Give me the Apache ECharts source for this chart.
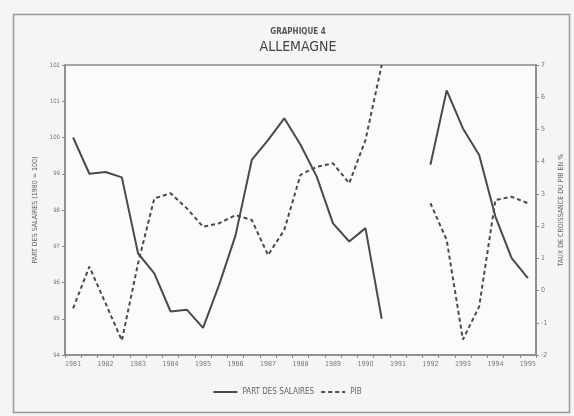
<!DOCTYPE html>
<html>
<head>
<meta charset="utf-8">
<script src="https://cdn.jsdelivr.net/npm/echarts@6/dist/echarts.min.js"></script>
<style>
html,body{margin:0;padding:0;background:#f5f5f3;}
#chart{width:574px;height:416px;}
</style>
</head>
<body>
<div id="chart"></div>
<script>
// Tick labels (years) — data are half-yearly (S1, S2)
var years = [1981,1982,1983,1984,1985,1986,1987,1988,1989,1990,1991,1992,1993,1994,1995];
var leftTicks = [94,95,96,97,98,99,100,101,102];
var rightTicks = [-2,-1,0,1,2,3,4,5,6,7];

// Part des salaires (left axis)
var partSalaires = [100.0, 99.0, 99.05, 98.9, 96.8, 96.25, 95.2, 95.25, 94.75, 95.95, 97.3, 99.38, 99.93, 100.53, 99.8, 98.92, 97.63, 97.13, 97.5, 95.0, null, null, 99.25, 101.3, 100.25, 99.52, 97.82, 96.67, 96.12];
// PIB growth % (right axis)
var pib = [-0.55, 0.74, -0.4, -1.55, 0.85, 2.86, 3.02, 2.55, 1.98, 2.09, 2.34, 2.19, 1.1, 1.88, 3.59, 3.84, 3.95, 3.33, 4.67, 7.0, null, null, 2.71, 1.57, -1.52, -0.5, 2.81, 2.91, 2.71];

var categories = [];
years.forEach(function(y, i){
  categories.push(y + ' S1');
  if (i < years.length - 1) categories.push(y + ' S2');
});

var FONT = "'Liberation Sans Narrow','DejaVu Sans Condensed','Liberation Sans',sans-serif";
var chart = echarts.init(document.getElementById('chart'), null, {renderer:'canvas'});
chart.setOption({
  backgroundColor: '#f5f5f3',
  animation: false,
  title: [
    {text: 'GRAPHIQUE 4', left: 293, top: 23, textAlign: 'center',
     textStyle: {fontFamily: FONT, fontSize: 8, fontWeight: 'bold', color: '#555'}},
    {text: 'ALLEMAGNE', left: 293, top: 35, textAlign: 'center',
     textStyle: {fontFamily: FONT, fontSize: 14, fontWeight: 'normal', color: '#444'}}
  ],
  graphic: [{
    type: 'rect', left: 11, top: 12, silent: true,
    shape: {width: 556, height: 398},
    style: {fill: 'none', stroke: '#9a9a9a', lineWidth: 1.5}
  }],
  grid: {left: 65, right: 38, top: 65, bottom: 61, show: true,
         backgroundColor: '#fbfbfa', borderColor: '#8a8a8a', borderWidth: 1.5},
  legend: {
    bottom: 15, left: 'center', itemWidth: 24, itemHeight: 8, itemGap: 6,
    textStyle: {fontFamily: FONT, fontSize: 8, color: '#666'},
    itemStyle: {opacity: 0},
    data: ['PART DES SALAIRES', 'PIB']
  },
  xAxis: {
    type: 'category', data: categories, boundaryGap: true,
    axisLine: {onZero: false, lineStyle: {color: '#8a8a8a', width: 1.5}},
    axisTick: {show: true, interval: 0, length: 3, lineStyle: {color: '#8a8a8a'}},
    axisLabel: {interval: 1, margin: 6, fontFamily: FONT, fontSize: 7, color: '#777',
      formatter: function(v){ return v.split(' ')[0]; }},
    splitLine: {show: false}
  },
  yAxis: [
    {type: 'value', min: leftTicks[0], max: leftTicks[leftTicks.length-1], interval: 1,
     name: 'PART DES SALAIRES (1980 = 100)', nameLocation: 'middle', nameGap: 24, nameRotate: 90,
     nameTextStyle: {fontFamily: FONT, fontSize: 7, color: '#666'},
     axisLine: {show: true, onZero: false, lineStyle: {color: '#8a8a8a', width: 1.5}},
     axisTick: {show: true, length: 3, lineStyle: {color: '#8a8a8a'}},
     axisLabel: {margin: 5, fontFamily: FONT, fontSize: 6, color: '#777'},
     splitLine: {show: false}},
    {type: 'value', min: rightTicks[0], max: rightTicks[rightTicks.length-1], interval: 1,
     position: 'right',
     name: 'TAUX DE CROISSANCE DU PIB EN %', nameLocation: 'middle', nameGap: 22, nameRotate: 90,
     nameTextStyle: {fontFamily: FONT, fontSize: 7, color: '#666'},
     axisLine: {show: true, onZero: false, lineStyle: {color: '#8a8a8a', width: 1.5}},
     axisTick: {show: true, length: 3, lineStyle: {color: '#8a8a8a'}},
     axisLabel: {margin: 5, fontFamily: FONT, fontSize: 7, color: '#777'},
     splitLine: {show: false}}
  ],
  series: [
    {name: 'PART DES SALAIRES', type: 'line', yAxisIndex: 0, data: partSalaires,
     showSymbol: false, symbol: 'none', connectNulls: false,
     lineStyle: {color: '#4a4a4a', width: 2, type: 'solid'},
     itemStyle: {color: '#4a4a4a'}},
    {name: 'PIB', type: 'line', yAxisIndex: 1, data: pib,
     showSymbol: false, symbol: 'none', connectNulls: false,
     lineStyle: {color: '#4a4a4a', width: 2, type: [4, 3]},
     itemStyle: {color: '#4a4a4a'}}
  ]
});
</script>
</body>
</html>
